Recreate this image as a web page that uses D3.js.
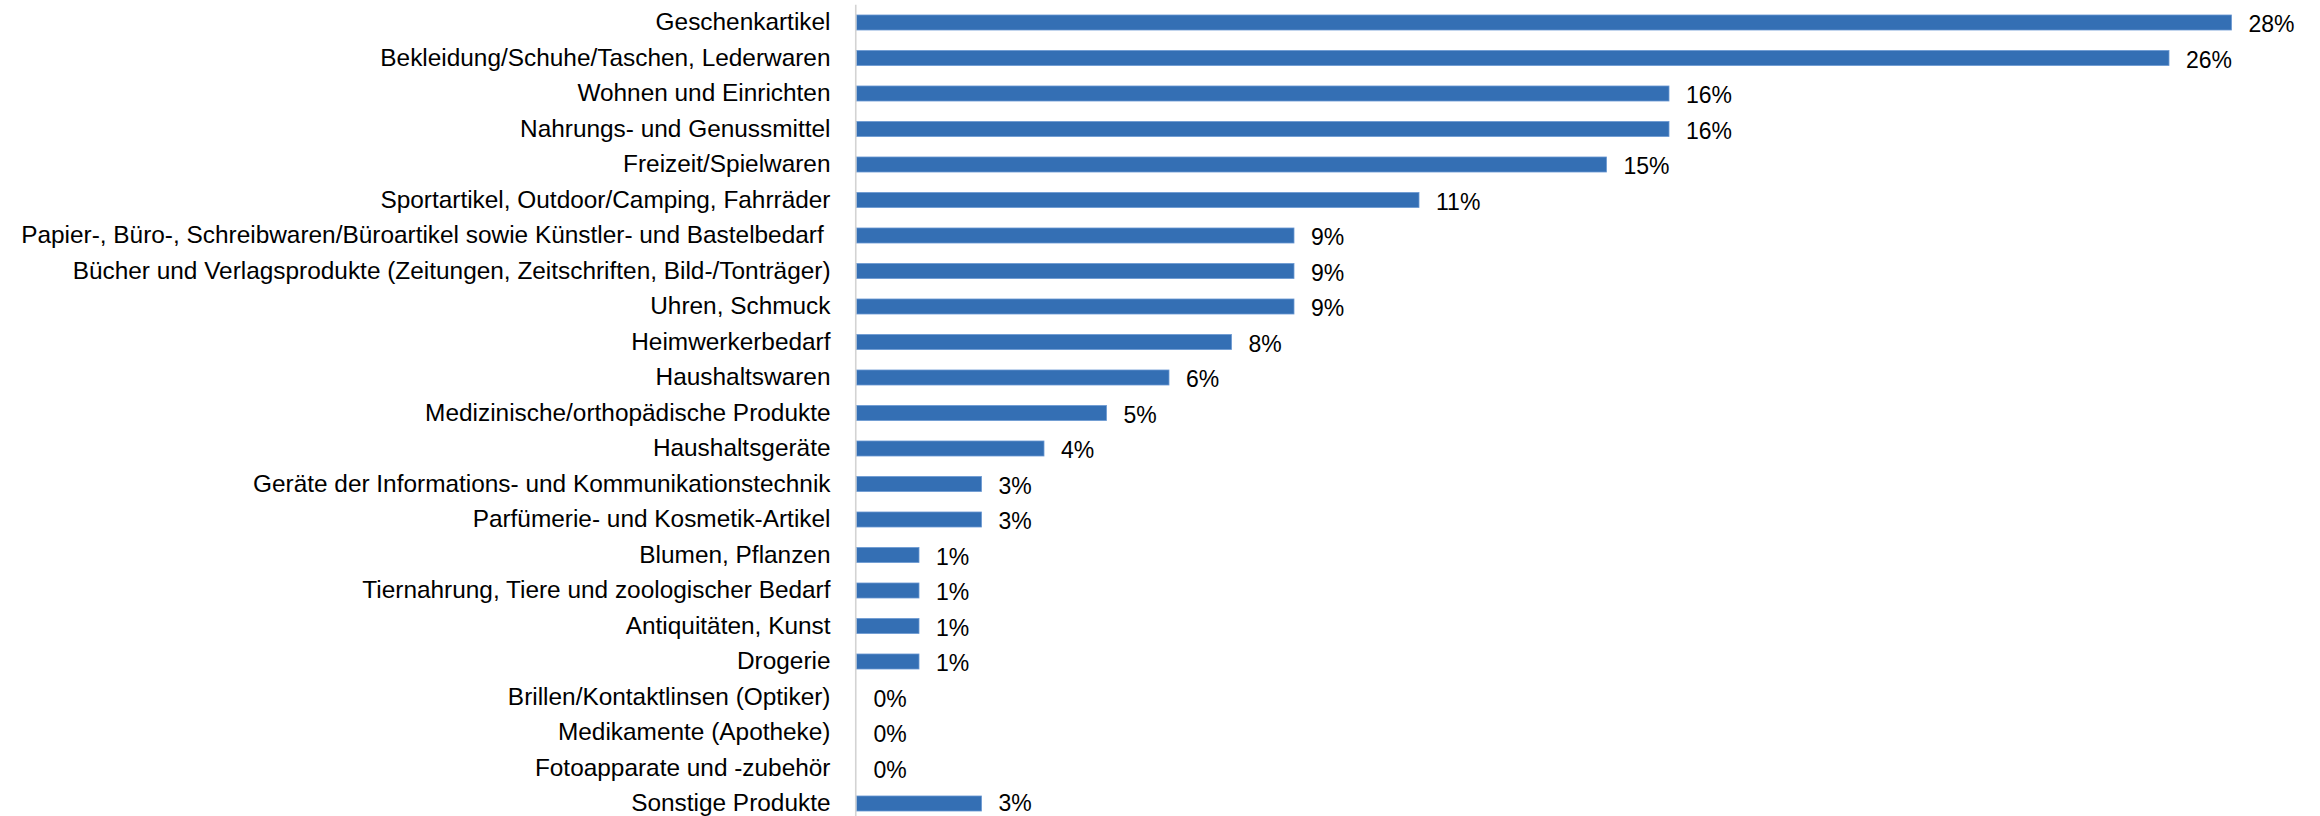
<!DOCTYPE html>
<html>
<head>
<meta charset="utf-8">
<script src="https://cdn.jsdelivr.net/npm/d3@7"></script>
<style>
  html, body { margin: 0; padding: 0; background: #fff; }
  svg { display: block; }
  text { font-family: "Liberation Sans", Arial, sans-serif; fill: #000; white-space: pre; }
</style>
</head>
<body>
<svg id="chart" width="2320" height="816"></svg>
<script>
const categories = [
  "Geschenkartikel",
  "Bekleidung/Schuhe/Taschen, Lederwaren",
  "Wohnen und Einrichten",
  "Nahrungs- und Genussmittel",
  "Freizeit/Spielwaren",
  "Sportartikel, Outdoor/Camping, Fahrräder",
  "Papier-, Büro-, Schreibwaren/Büroartikel sowie Künstler- und Bastelbedarf ",
  "Bücher und Verlagsprodukte (Zeitungen, Zeitschriften, Bild-/Tonträger)",
  "Uhren, Schmuck",
  "Heimwerkerbedarf",
  "Haushaltswaren",
  "Medizinische/orthopädische Produkte",
  "Haushaltsgeräte",
  "Geräte der Informations- und Kommunikationstechnik",
  "Parfümerie- und Kosmetik-Artikel",
  "Blumen, Pflanzen",
  "Tiernahrung, Tiere und zoologischer Bedarf",
  "Antiquitäten, Kunst",
  "Drogerie",
  "Brillen/Kontaktlinsen (Optiker)",
  "Medikamente (Apotheke)",
  "Fotoapparate und -zubehör",
  "Sonstige Produkte"
];
const values = [27.5, 26.25, 16.25, 16.25, 15, 11.25, 8.75, 8.75, 8.75, 7.5, 6.25, 5, 3.75, 2.5, 2.5, 1.25, 1.25, 1.25, 1.25, 0, 0, 0, 2.5];

const data = categories.map((c, i) => ({ cat: c, val: values[i] }));

const W = 2320, H = 816;
const svg = d3.select("#chart");

const x = d3.scaleLinear().domain([0, 28]).range([856.5, 2256.5]);
const y = d3.scaleBand()
  .domain(categories)
  .range([4.75, 821.25])
  .paddingInner(0.577)
  .paddingOuter(0.2885);

// bars
svg.append("g").selectAll("rect")
  .data(data.filter(d => d.val > 0))
  .join("rect")
  .attr("x", x(0))
  .attr("y", d => y(d.cat))
  .attr("width", d => x(d.val) - x(0))
  .attr("height", y.bandwidth())
  .attr("fill", "#346FB4")
  .attr("stroke", "#6A98D2")
  .attr("stroke-width", 0.8);

// category axis
const yAxis = d3.axisLeft(y).tickSize(0).tickPadding(26);
const gy = svg.append("g").attr("transform", `translate(${x(0)},0)`).call(yAxis);
gy.select(".domain").remove();
gy.selectAll("text")
  .style("font-family", '"Liberation Sans", Arial, sans-serif')
  .style("font-size", "24.4px")
  .attr("fill", "#000")
  .attr("dy", "7.8px");

// axis line
svg.append("line")
  .attr("x1", x(0) - 0.75).attr("x2", x(0) - 0.75)
  .attr("y1", y.range()[0]).attr("y2", y.range()[1])
  .attr("stroke", "#D3D3D3")
  .attr("stroke-width", 1.6);

// data labels (kept inside the picture at the bottom edge)
const labelSize = 23;
svg.append("g").selectAll("text")
  .data(data)
  .join("text")
  .attr("x", d => x(d.val) + 17)
  .attr("y", d => Math.min(y(d.cat) + y.bandwidth() / 2 + 9.5, H - labelSize * 0.23))
  .style("font-size", labelSize + "px")
  .text(d => Math.round(d.val) + "%");
</script>
</body>
</html>
